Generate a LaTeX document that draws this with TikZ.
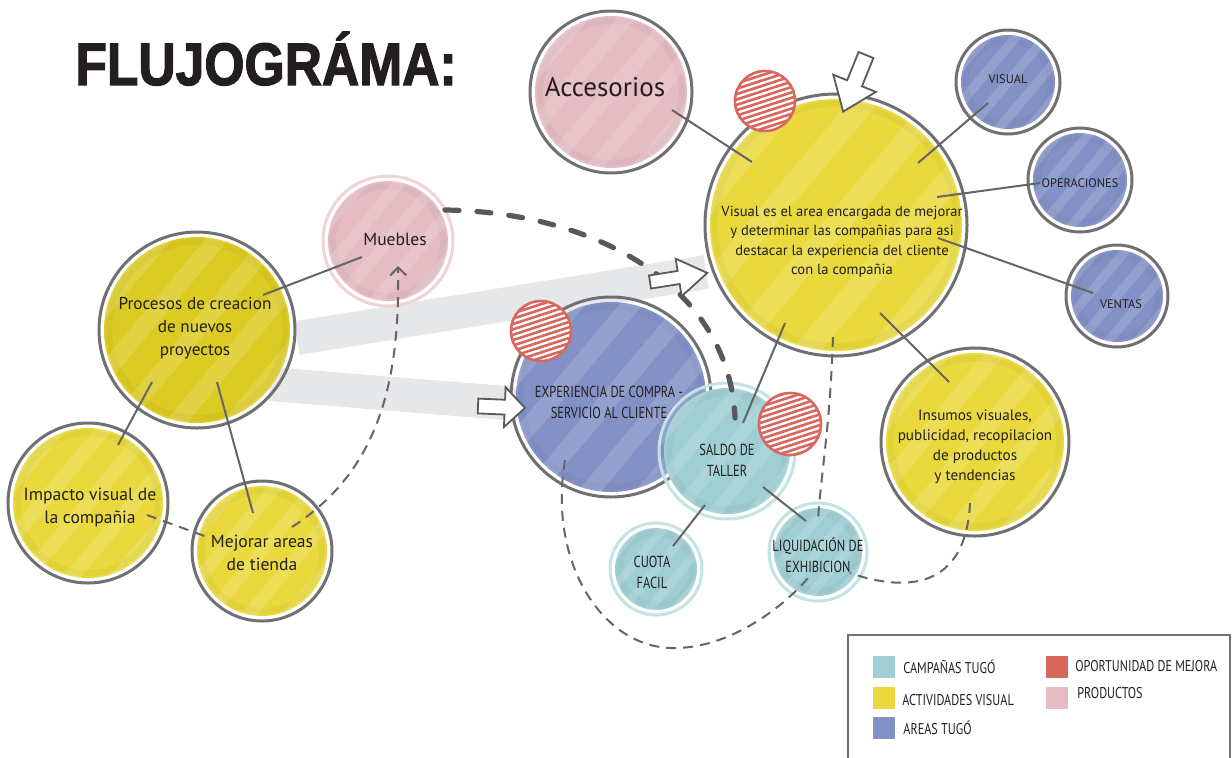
\documentclass[tikz,border=0pt]{standalone}
\usepackage{fontspec}
\setmainfont{PT Sans}
\newfontfamily\condfont{PT Sans}[FakeStretch=0.78]
\newfontfamily\titlefont{Liberation Sans}[FakeStretch=0.86, BoldFeatures={FakeBold=2}]
\usetikzlibrary{calc,arrows.meta}

\definecolor{yellowA}{HTML}{E9D93C}
\definecolor{yellowB}{HTML}{DCCB22}
\definecolor{blueA}{HTML}{8391C6}
\definecolor{tealA}{HTML}{9FCFD3}
\definecolor{tealpale}{HTML}{C3E3E5}
\definecolor{pinkA}{HTML}{E5BCC3}
\definecolor{pinkpale}{HTML}{EFD3D7}
\definecolor{redA}{HTML}{D8675E}
\definecolor{ringgrey}{HTML}{707072}
\definecolor{bandgrey}{HTML}{E6E7E8}
\definecolor{dashgrey}{HTML}{59595B}
\definecolor{inkc}{HTML}{231F20}

% hollow block arrow: x, y (tail), angle, length, shaft half width, head half width, head start fraction
\newcommand\blockarrow[7]{%
  \begin{scope}[shift={(#1,#2)}, rotate=#3]
    \draw[ringgrey!80!black, line width=0.9pt, fill=white, line join=miter]
      (0pt,#5pt) -- (#7*#4pt,#5pt) -- (#7*#4pt,#6pt) -- (#4pt,0pt)
      -- (#7*#4pt,-#6pt) -- (#7*#4pt,-#5pt) -- (0pt,-#5pt) -- cycle;
  \end{scope}}

\tikzset{
  % watercolour bubble: fill colour, radius (px), ring colour
  bubble/.style n args={3}{circle, inner sep=0pt, minimum size=#2*1pt,
    draw=#3, line width=1.5pt,
    path picture={
      \coordinate (pc) at (path picture bounding box.center);
      \fill[#1] (pc) circle[radius=(#2-5)*0.5pt];
      \draw[#1!88!black, opacity=.25, line width=3pt] (pc) circle[radius=(#2-10)*0.5pt];
      \foreach \k in {-4,...,4}
        \draw[white, opacity=.14, line width=#2*0.09pt]
          ($(pc)+(140:\k*#2*0.22pt)+(230:#2*0.6pt)$) -- ++(50:#2*1.2pt);
    }},
  hatch/.style={circle, inner sep=0pt, minimum size=#1*1pt, draw=redA, line width=1.3pt, fill=white,
    path picture={
      \coordinate (hc) at (path picture bounding box.center);
      \foreach \k in {-7,...,7}
        \draw[redA, line width=1.3pt] ($(hc)+(108:\k*2.55pt)+(198:25pt)$) -- ++(18:50pt);
    }},
  link/.style={ringgrey!90!black, line width=1pt},
  thindash/.style={ringgrey!90!black, line width=1pt, dash pattern=on 5pt off 3.5pt},
  thickdash/.style={dashgrey, line width=2.6pt, line cap=round, dash pattern=on 7pt off 9pt},
  band/.style={bandgrey, line width=17pt},
  txt/.style 2 args={text=inkc, align=center, inner sep=0pt, font=\fontsize{#1}{#2}\selectfont},
  capstxt/.style 2 args={text=inkc, align=center, inner sep=0pt, font=\condfont\fontsize{#1}{#2}\selectfont},
  swatch/.style={fill=#1, minimum size=11pt, inner sep=0pt},
  legtxt/.style={text=inkc, anchor=west, inner sep=0pt, font=\condfont\fontsize{7.8}{9}\selectfont},
}

\begin{document}
\begin{tikzpicture}[x=0.5pt, y=-0.5pt]
\useasboundingbox (0,0) rectangle (1232,757);

% title
\node[anchor=base west, inner sep=0pt, text=inkc] (title) at (75,85)
  {\titlefont\bfseries\fontsize{30}{32}\selectfont FLUJOGRÁMA:};

% circle centres
\coordinate (cpro) at (197,330);
\coordinate (cmain) at (836,225);
\coordinate (cexp) at (611,397);

% grey bands behind the bubbles
\draw[band] ([shift={(100,8)}]cpro) -- ([shift={(-130,47)}]cmain);
\draw[band] ([shift={(73,54)}]cpro) -- ([shift={(-93,7)}]cexp);

% bubbles
\node[bubble={pinkA}{81}{ringgrey}] (acc) at (611,92) {};
\node[bubble={yellowA}{131}{ringgrey}] (main) at (cmain) {};
\node[bubble={blueA}{52}{ringgrey}] (vis) at (1008,82) {};
\node[bubble={blueA}{52}{ringgrey}] (ops) at (1080,180) {};
\node[bubble={blueA}{51}{ringgrey}] (ven) at (1117,296) {};
\node[bubble={pinkA}{65}{pinkpale}] (mue) at (388,241) {};
\node[bubble={yellowB}{98}{ringgrey}] (pro) at (cpro) {};
\node[bubble={yellowA}{80}{ringgrey}] (imp) at (88,503) {};
\node[bubble={yellowA}{70}{ringgrey}] (mej) at (262,551) {};
\node[bubble={blueA}{100}{ringgrey}] (exp) at (cexp) {};
\node[bubble={tealA}{68}{tealpale}] (sal) at (727,451) {};
\node[bubble={tealA}{46}{tealpale}] (cuo) at (656,569) {};
\node[bubble={tealA}{49}{tealpale}] (liq) at (818,552) {};
\node[bubble={yellowA}{94}{ringgrey}] (ins) at (975,442) {};

% improvement markers
\node[hatch=30] (h1) at (765,101) {};
\node[hatch=30] (h2) at (541,331) {};
\node[hatch=31] (h3) at (790,424) {};

% solid links
\draw[link] ([shift={(61,18)}]acc.center) -- ([shift={(-84,-63)}]main.center);
\draw[link] ([shift={(82,-62)}]main.center) -- ([shift={(-20,21)}]vis.center);
\draw[link] ([shift={(101,-28)}]main.center) -- ([shift={(-40,3)}]ops.center);
\draw[link] ([shift={(102,13)}]main.center) -- ([shift={(-24,-3)}]ven.center);
\draw[link] ([shift={(44,88)}]main.center) -- ([shift={(-26,-60)}]ins.center);
\draw[link] ([shift={(-51,98)}]main.center) -- ([shift={(16,-28)}]sal.center);
\draw[link] ([shift={(-22,54)}]sal.center) -- ([shift={(17,-23)}]cuo.center);
\draw[link] ([shift={(36,36)}]sal.center) -- ([shift={(-12,-31)}]liq.center);
\draw[link] ([shift={(66,-35)}]pro.center) -- ([shift={(-26,16)}]mue.center);
\draw[link] ([shift={(-45,52)}]pro.center) -- ([shift={(30,-58)}]imp.center);
\draw[link] ([shift={(20,52)}]pro.center) -- ([shift={(-9,-38)}]mej.center);

% dashed links
\draw[thindash] ([shift={(59,12)}]imp.center) -- ([shift={(-52,-13)}]mej.center);
\draw[thindash, -{Straight Barb[length=4pt, width=8pt, line width=1pt]}]
  ([shift={(30,-24)}]mej.center) .. controls (380,470) and (400,380) .. ([shift={(10,25)}]mue.center);
\draw[thindash] ([shift={(-46,63)}]exp.center) .. controls (548,560) and (600,645) .. (670,648)
  .. controls (730,650) and (785,605) .. ([shift={(-10,26)}]liq.center);
\draw[thindash] ([shift={(-3,112)}]main.center) .. controls (830,430) and (820,480) .. ([shift={(0,-30)}]liq.center);
\draw[thindash] ([shift={(-5,61)}]ins.center) .. controls (966,590) and (905,592) .. ([shift={(32,21)}]liq.center);
\draw[thickdash] ([shift={(57,-31)}]mue.center) .. controls (600,212) and (730,290) .. ([shift={(8,-33)}]sal.center);

% block arrows
\blockarrow{650}{282}{9}{29}{3.3}{9.5}{0.5}
\blockarrow{478}{406}{-2.4}{23.5}{3.7}{10}{0.57}
\blockarrow{866}{55}{-112}{30.5}{4}{11.5}{0.5}

% labels
\node[txt={13.5}{16}] (acc-t) at (605,87) {Accesorios};
\node[txt={7.3}{9.75}] (main-t) at (842,242) {Visual es el area encargada de mejorar\\y determinar las compañias para asi\\destacar la experiencia del cliente\\con la compañia};
\node[txt={8.6}{11.5}] (pro-t) at (195,328) {Procesos de creacion\\de nuevos\\proyectos};
\node[txt={8.8}{11.5}] (mue-t) at (395,239) {Muebles};
\node[txt={8.8}{11.5}] (imp-t) at (90,508) {Impacto visual de\\la compañia};
\node[txt={8.8}{11.5}] (mej-t) at (262,553) {Mejorar areas\\de tienda};
\node[txt={7.6}{10}] (ins-t) at (975,447) {Insumos visuales,\\publicidad, recopilacion\\de productos\\y tendencias};
\node[capstxt={8}{10.5}] (exp-t) at (609,402) {EXPERIENCIA DE COMPRA -\\SERVICIO AL CLIENTE};
\node[capstxt={8}{10.5}] (sal-t) at (727,460) {SALDO DE\\TALLER};
\node[capstxt={8}{10.5}] (cuo-t) at (652,572) {CUOTA\\FACIL};
\node[capstxt={8}{10.5}] (liq-t) at (818,555) {LIQUIDACIÓN DE\\EXHIBICION};
\node[txt={6.2}{7}] (vis-t) at (1008,79) {VISUAL};
\node[txt={6.2}{7}] (ops-t) at (1080,183) {OPERACIONES};
\node[txt={6.2}{7}] (ven-t) at (1121,304) {VENTAS};

% legend
\draw[ringgrey, line width=1pt] (848,760) -- (848,635) -- (1230,635) -- (1230,760);
\node[swatch=tealA] (lg1) at (884,667) {};
\node[swatch=yellowA] (lg2) at (884,698) {};
\node[swatch=blueA] (lg3) at (884,728) {};
\node[swatch=redA] (lg4) at (1057,667) {};
\node[swatch=pinkA] (lg5) at (1057,698) {};
\node[legtxt] (lg1-t) at (903,667) {CAMPAÑAS TUGÓ};
\node[legtxt] (lg2-t) at (902,700) {ACTIVIDADES VISUAL};
\node[legtxt] (lg3-t) at (903,728) {AREAS TUGÓ};
\node[legtxt] (lg4-t) at (1075,666) {OPORTUNIDAD DE MEJORA};
\node[legtxt] (lg5-t) at (1077,693) {PRODUCTOS};
\end{tikzpicture}
\end{document}
